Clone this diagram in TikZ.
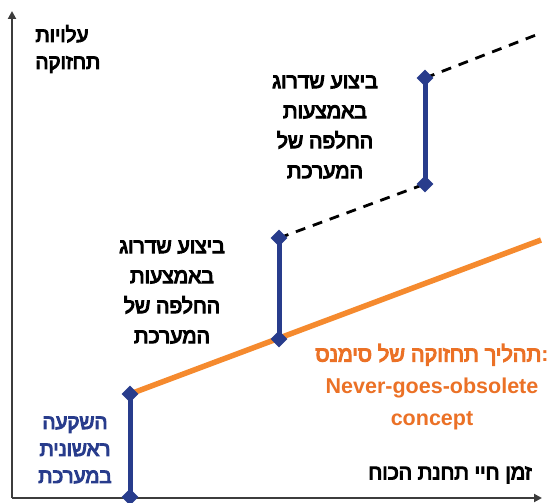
\documentclass[tikz,border=0pt]{standalone}
\usepackage{fontspec}
\setmainfont{Liberation Sans}
\newfontfamily\hebfont[Script=Hebrew, BoldFont={Liberation Sans},
    BoldFeatures={FakeBold=5}]{Liberation Sans}
\TeXXeTstate=1
\usetikzlibrary{shapes.geometric, arrows.meta}
\definecolor{navy}{HTML}{283C8C}
\definecolor{orangeline}{HTML}{F58A2E}
\definecolor{orangetext}{HTML}{EB7126}
\definecolor{axisgray}{HTML}{3C3C3C}
\newcommand{\heb}[1]{\beginR#1\endR}
\tikzstyle{axis} = [
    line width=2.2pt,
    draw=axisgray,
    -{Triangle[length=8pt,width=8pt]}
]
\tikzstyle{bar} = [line width=5pt, draw=navy]
\tikzstyle{cost} = [line width=5.5pt, draw=orangeline]
\tikzstyle{future} = [line width=2.8pt, draw=black, dash pattern=on 10pt off 8pt]
\tikzstyle{knot} = [
    diamond,
    fill=navy,
    inner sep=0pt,
    minimum width=17pt,
    minimum height=17pt
]
\tikzstyle{caption} = [
    align=center,
    font=\hebfont\bfseries\fontsize{21}{30}\selectfont
]

\begin{document}
\begin{tikzpicture}[x=1pt, y=-1pt]

\useasboundingbox (0,0) rectangle (552,503);

\coordinate (origin) at (12,498);
\coordinate (ytip) at (12,11);
\coordinate (xtip) at (542,498);
\coordinate (costend) at (541,240);
\coordinate (futureend) at (536,35);

% axes
\draw [axis] (origin) -- (ytip);
\draw [axis] (origin) -- (xtip);

% maintenance points
\coordinate (first1) at (130,497);
\coordinate (first2) at (130,394);
\coordinate (upg1lo) at (279,339);
\coordinate (upg1hi) at (279,238);
\coordinate (upg2lo) at (425,184);
\coordinate (upg2hi) at (425,78);

\draw [cost] (first2) -- (costend);
\draw [future] (upg1hi) -- (upg2lo);
\draw [future] (upg2hi) -- (futureend);

\draw [bar] (first1) -- (first2);
\draw [bar] (upg1lo) -- (upg1hi);
\draw [bar] (upg2lo) -- (upg2hi);

\node (first1m) [knot] at (first1) {};
\node (first2m) [knot] at (first2) {};
\node (upg1lom) [knot] at (upg1lo) {};
\node (upg1him) [knot] at (upg1hi) {};
\node (upg2lom) [knot] at (upg2lo) {};
\node (upg2him) [knot] at (upg2hi) {};

% texts
\node (ylabel) [caption, align=left, anchor=west,
    font=\hebfont\bfseries\fontsize{20.5}{27}\selectfont] at (32,49)
{\heb{עלויות}\\\heb{תחזוקה}};

\node (upg2text) [caption] at (325,127)
{\heb{ביצוע שדרוג}\\\heb{באמצעות}\\\heb{החלפה של}\\\heb{המערכת}};

\node (upg1text) [caption] at (172,292)
{\heb{ביצוע שדרוג}\\\heb{באמצעות}\\\heb{החלפה של}\\\heb{המערכת}};

\node (costtext) [caption, text=orangetext,
    font=\hebfont\bfseries\fontsize{21.5}{32}\selectfont] at (432,387)
{\heb{תהליך תחזוקה של סימנס}{\rmfamily\bfseries:}\\
 {\rmfamily\bfseries Never-goes-obsolete}\\
 {\rmfamily\bfseries concept}};

\node (firsttext) [caption, text=navy,
    font=\hebfont\bfseries\fontsize{20.5}{27}\selectfont] at (75,450)
{\heb{השקעה}\\\heb{ראשונית}\\\heb{במערכת}};

\node (xlabel) [caption] at (450,475)
{\heb{זמן חיי תחנת הכוח}};

\end{tikzpicture}
\end{document}
